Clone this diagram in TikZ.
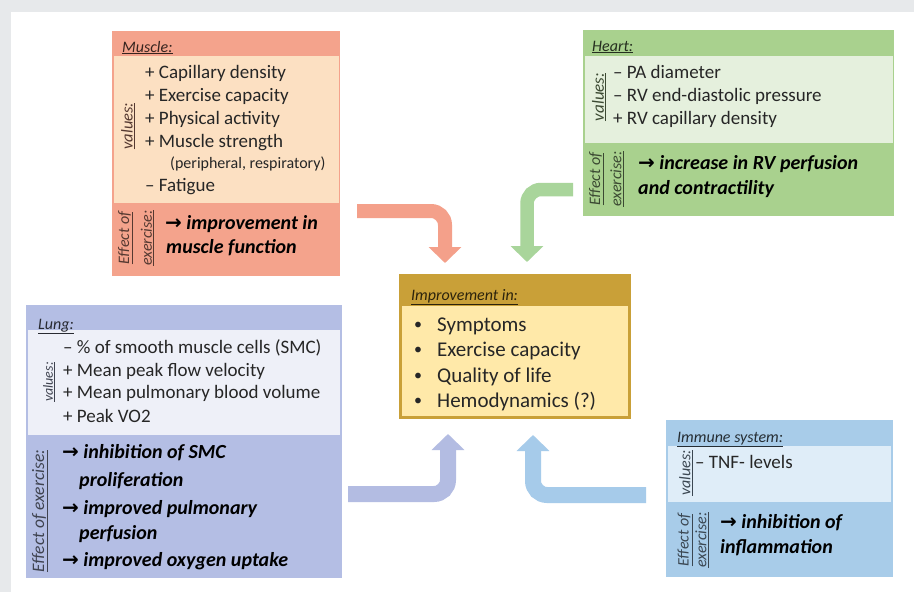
\documentclass[tikz,border=0pt]{standalone}
\usepackage{fontspec}
\setmainfont{Carlito}[BoldFont={Carlito Bold}, ItalicFont={Carlito Italic}, BoldItalicFont={Carlito Bold Italic}]
\newfontfamily\djv{DejaVu Sans}
\usetikzlibrary{arrows.meta}
\definecolor{bggray}{HTML}{E7E9EB}
\definecolor{salmonD}{HTML}{F4A38C}
\definecolor{salmonL}{HTML}{FCE0C2}
\definecolor{greenD}{HTML}{A9D18E}
\definecolor{greenL}{HTML}{E5F0DD}
\definecolor{lavD}{HTML}{B4BEE4}
\definecolor{lavL}{HTML}{EEF0F8}
\definecolor{goldD}{HTML}{C9A038}
\definecolor{goldL}{HTML}{FFE9A9}
\definecolor{blueD}{HTML}{A8CCE9}
\definecolor{blueL}{HTML}{DFEDF8}
\definecolor{arSalmon}{HTML}{F4A08A}
\definecolor{arGreen}{HTML}{A9D59B}
\definecolor{arLav}{HTML}{B3BCE2}
\definecolor{arBlue}{HTML}{A6CBEA}
\definecolor{txt}{HTML}{262626}
\newcommand\effarrow{{\djv\bfseries →}\ }
\begin{document}
\begin{tikzpicture}[x=1pt,y=1pt,
  panel/.style={anchor=north west, inner sep=0pt, outer sep=0pt, draw=none},
  hdr/.style={anchor=base west, inner sep=0pt, font=\fontsize{16}{19}\selectfont\itshape},
  val/.style={anchor=base west, inner sep=0pt, text=txt, font=\fontsize{19}{23}\selectfont},
  eff/.style={anchor=base west, inner sep=0pt, text=black, font=\fontsize{20}{24}\selectfont\bfseries\itshape},
  bul/.style={anchor=base west, inner sep=0pt, text=txt, font=\fontsize{21}{25}\selectfont},
  rot/.style={rotate=90, inner sep=0pt, font=\itshape},
  bigarrow/.style={line width=15pt, rounded corners=14pt, -{Triangle[width=32pt,length=16pt]}}
]
\useasboundingbox (0,0) rectangle (914,-592);
\fill[bggray] (0,0) rectangle (914,-592);
\fill[white] (11,-12) rectangle (914,-592);

% ---------- Muscle ----------
\node[panel, fill=salmonD, minimum width=228pt, minimum height=245pt] (muscle) at (112,-31) {};
\fill[salmonL] (113.5,-56) rectangle (338.5,-203);
\node[hdr, text=salmonD!22!black] (mh) at (122,-52) {\underline{Muscle:}};
\node[rot, text=salmonD!35!black, font=\fontsize{16.5}{19}\selectfont\itshape] (mv) at (128,-126) {\underline{values:}};
\node[val] (m1) at (145,-78.7) {+ Capillary density};
\node[val] (m2) at (145,-101.7) {+ Exercise capacity};
\node[val] (m3) at (145,-124.7) {+ Physical activity};
\node[val] (m4) at (145,-147.7) {+ Muscle strength};
\node[val, font=\fontsize{16}{19}\selectfont] (m5) at (170,-168) {(peripheral, respiratory)};
\node[val] (m6) at (145,-191.5) {– Fatigue};
\node[rot, text=salmonD!35!black, font=\fontsize{16}{19}\selectfont\itshape] (me1) at (125.5,-238) {\underline{Effect of}};
\node[rot, text=salmonD!35!black, font=\fontsize{16}{19}\selectfont\itshape] (me2) at (147.5,-238) {\underline{exercise:}};
\node[eff] (mt1) at (165,-229) {\effarrow improvement in};
\node[eff] (mt2) at (166,-253) {muscle function};

% ---------- Heart ----------
\node[panel, fill=greenD, minimum width=311pt, minimum height=186pt] (heart) at (583,-30) {};
\fill[greenL] (585,-56) rectangle (892.5,-143);
\node[hdr, text=greenD!22!black] (hh) at (592,-51) {\underline{Heart:}};
\node[rot, text=greenD!35!black, font=\fontsize{17}{19}\selectfont\itshape] (hv) at (599,-97) {\underline{values:}};
\node[val] (h1) at (613,-78.7) {– PA diameter};
\node[val] (h2) at (613,-101.7) {– RV end-diastolic pressure};
\node[val] (h3) at (613,-124) {+ RV capillary density};
\node[rot, text=greenD!35!black, font=\fontsize{16}{19}\selectfont\itshape] (he1) at (596.5,-179) {\underline{Effect of}};
\node[rot, text=greenD!35!black, font=\fontsize{16}{19}\selectfont\itshape] (he2) at (617,-179) {\underline{exercise:}};
\node[eff] (ht1) at (638,-169) {\effarrow increase in RV perfusion};
\node[eff] (ht2) at (638,-194) {and contractility};

% ---------- Lung ----------
\node[panel, fill=lavD, minimum width=316pt, minimum height=273pt] (lung) at (26,-305) {};
\fill[lavL] (28,-330) rectangle (340,-435);
\node[hdr, text=lavD!22!black] (lh) at (38,-329) {\underline{Lung:}};
\node[rot, text=lavD!35!black, font=\fontsize{14}{17}\selectfont\itshape] (lv) at (49,-382) {\underline{values:}};
\node[val] (l1) at (63,-353.7) {– \% of smooth muscle cells (SMC)};
\node[val] (l2) at (63,-376.7) {+ Mean peak flow velocity};
\node[val] (l3) at (63,-398.7) {+ Mean pulmonary blood volume};
\node[val] (l4) at (63,-422.5) {+ Peak VO2};
\node[rot, text=lavD!35!black, font=\fontsize{17.5}{20}\selectfont\itshape] (le) at (40,-511) {\underline{Effect of exercise:}};
\node[eff] (lt1) at (62,-458) {\effarrow inhibition of SMC};
\node[eff] (lt2) at (79,-486) {proliferation};
\node[eff] (lt3) at (62,-514) {\effarrow improved pulmonary};
\node[eff] (lt4) at (79,-539) {perfusion};
\node[eff] (lt5) at (62,-566) {\effarrow improved oxygen uptake};

% ---------- Immune system ----------
\node[panel, fill=blueD, minimum width=227pt, minimum height=157pt] (immune) at (666,-420) {};
\fill[blueL] (668,-446) rectangle (891,-502);
\node[hdr, text=blueD!22!black] (ih) at (677,-442) {\underline{Immune system:}};
\node[rot, text=blueD!35!black, font=\fontsize{16}{19}\selectfont\itshape] (iv) at (686,-473) {\underline{values:}};
\node[val] (i1) at (695,-468.7) {– TNF- levels};
\node[rot, text=blueD!35!black, font=\fontsize{16}{19}\selectfont\itshape] (ie1) at (685,-540) {\underline{Effect of}};
\node[rot, text=blueD!35!black, font=\fontsize{16}{19}\selectfont\itshape] (ie2) at (702,-540) {\underline{exercise:}};
\node[eff] (it1) at (720,-528) {\effarrow inhibition of};
\node[eff] (it2) at (720,-553) {inflammation};

% ---------- Center ----------
\node[panel, fill=goldD, minimum width=232pt, minimum height=145pt] (improve) at (399,-274) {};
\fill[goldL] (402,-306) rectangle (628,-416);
\node[hdr, text=goldD!22!black] (ch) at (411,-300) {\underline{Improvement in:}};
\node[bul, font=\fontsize{16}{19}\selectfont] (cb1) at (414,-329) {•};
\node[bul] (c1) at (437,-331) {Symptoms};
\node[bul, font=\fontsize{16}{19}\selectfont] (cb2) at (414,-354.5) {•};
\node[bul] (c2) at (437,-356.5) {Exercise capacity};
\node[bul, font=\fontsize{16}{19}\selectfont] (cb3) at (414,-380) {•};
\node[bul] (c3) at (437,-382) {Quality of life};
\node[bul, font=\fontsize{16}{19}\selectfont] (cb4) at (414,-405.5) {•};
\node[bul] (c4) at (437,-407.5) {Hemodynamics (?)};

% ---------- Arrows ----------
\coordinate (ms) at (357,-211);
\coordinate (me) at (445,-263);
\coordinate (hs) at (573,-189.5);
\coordinate (he) at (527,-262);
\coordinate (ls) at (348,-494);
\coordinate (le2) at (448,-434);
\coordinate (is) at (646,-495);
\coordinate (ie) at (533,-435);
\draw[bigarrow, arSalmon, line width=14pt] (ms) -| (me);
\draw[bigarrow, arGreen, line width=13.5pt] (hs) -| (he);
\draw[bigarrow, arLav, line width=16pt] (ls) -| (le2);
\draw[bigarrow, arBlue, line width=16pt] (is) -| (ie);
\end{tikzpicture}
\end{document}
